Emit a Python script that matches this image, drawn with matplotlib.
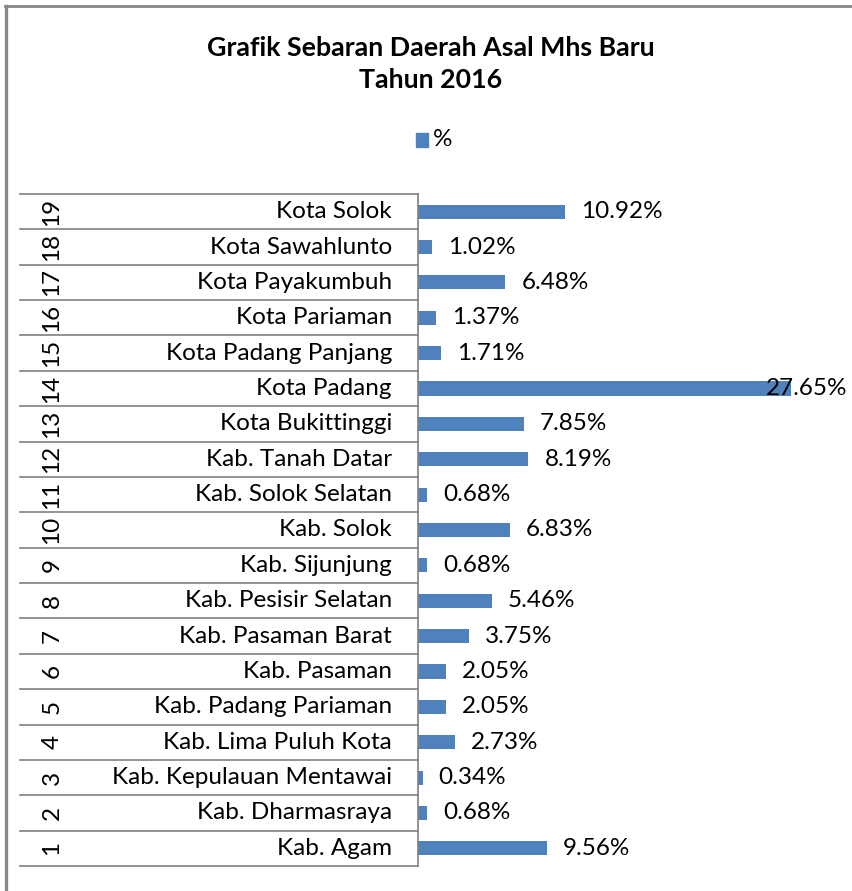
import matplotlib
matplotlib.use("Agg")
import matplotlib.pyplot as plt
from matplotlib.lines import Line2D
from matplotlib.patches import Rectangle

numbers = ['1', '2', '3', '4', '5', '6', '7', '8', '9', '10',
           '11', '12', '13', '14', '15', '16', '17', '18', '19']
regions = ['Kab. Agam', 'Kab. Dharmasraya', 'Kab. Kepulauan Mentawai',
           'Kab. Lima Puluh Kota', 'Kab. Padang Pariaman', 'Kab. Pasaman',
           'Kab. Pasaman Barat', 'Kab. Pesisir Selatan', 'Kab. Sijunjung',
           'Kab. Solok', 'Kab. Solok Selatan', 'Kab. Tanah Datar',
           'Kota Bukittinggi', 'Kota Padang', 'Kota Padang Panjang',
           'Kota Pariaman', 'Kota Payakumbuh', 'Kota Sawahlunto', 'Kota Solok']
percent = [9.56, 0.68, 0.34, 2.73, 2.05, 2.05, 3.75, 5.46, 0.68, 6.83,
           0.68, 8.19, 7.85, 27.65, 1.71, 1.37, 6.48, 1.02, 10.92]

plt.rcParams['font.family'] = ['Lato', 'DejaVu Sans']
W, H = 853, 891
fig = plt.figure(figsize=(W / 100, H / 100), dpi=100)

# plot area in pixels
x0, x1 = 418, 853
y_top, y_bot = 194, 866
ax = fig.add_axes([x0 / W, 1 - y_bot / H, (x1 - x0) / W, (y_bot - y_top) / H])

blue = '#4F81BD'
grey = '#808080'
fs = 17.5
xmax = (x1 - 419) / 13.46
pos = list(range(len(percent)))
ax.barh(pos, percent, height=0.4, color=blue, left=0)
ax.set_xlim(0, xmax)
ax.set_ylim(-0.5, len(percent) - 0.5)
ax.set_xticks([])
ax.set_yticks([])
for s in ['top', 'right', 'bottom']:
    ax.spines[s].set_visible(False)
ax.spines['left'].set_color(grey)
ax.spines['left'].set_linewidth(1.2)

px = xmax / (x1 - x0)
for p, v in zip(pos, percent):
    txt = f'{v:.2f}%'
    if v + 100 * px > xmax:
        ax.text(xmax - 6 * px, p, txt, ha='right', va='center', fontsize=fs, color='black')
    else:
        ax.text(v + 16 * px, p, txt, ha='left', va='center', fontsize=fs, color='black')

# category table on the left
tr = ax.get_yaxis_transform()
left_frac = (20 - x0) / (x1 - x0)
for k in range(len(percent) + 1):
    ax.add_line(Line2D([left_frac, 0], [k - 0.5, k - 0.5], transform=tr,
                       color=grey, lw=1.2, clip_on=False))
for p, (n, r) in enumerate(zip(numbers, regions)):
    ax.text((392 - x0) / (x1 - x0), p, r, transform=tr, ha='right', va='center',
            fontsize=fs, clip_on=False)
    ax.text((52 - x0) / (x1 - x0), p, n, transform=tr, ha='center', va='center',
            rotation=90, fontsize=fs, clip_on=False)

fig.text(431 / W, 1 - 48 / H, 'Grafik Sebaran Daerah Asal Mhs Baru', ha='center', va='center',
         fontsize=19.3, fontweight='bold')
fig.text(431 / W, 1 - 80 / H, 'Tahun 2016', ha='center', va='center',
         fontsize=19.3, fontweight='bold')

# legend
fig.patches.append(Rectangle((416 / W, 1 - 147 / H), 12 / W, 14 / H, transform=fig.transFigure,
                             color=blue))
fig.text(433 / W, 1 - 140 / H, '%', ha='left', va='center', fontsize=fs)

# chart border (left and top visible)
fig.add_artist(Line2D([6 / W, 6 / W], [0, 1 - 6 / H], transform=fig.transFigure,
                      color='#888888', lw=2.4))
fig.add_artist(Line2D([5 / W, 1], [1 - 6 / H, 1 - 6 / H], transform=fig.transFigure,
                      color='#888888', lw=2))

fig.savefig('out.png', dpi=100)
